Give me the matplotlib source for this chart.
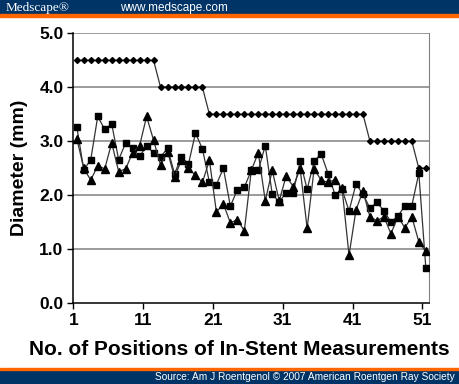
import matplotlib
matplotlib.use("Agg")
import matplotlib.pyplot as plt
import numpy as np

positions = list(range(1, 52))
diamond = [4.5]*12 + [4.0]*7 + [3.5]*23 + [3.0]*7 + [2.5]*2
squares = [3.27, 2.47, 2.66, 3.46, 3.22, 3.32, 2.66, 2.97, 2.87, 2.72,
           2.92, 2.78, 2.71, 2.87, 2.40, 2.71, 2.58, 3.15, 2.86, 2.24,
           2.20, 2.50, 1.80, 2.10, 2.15, 2.46, 2.46, 2.92, 2.02, 1.88,
           2.05, 2.05, 2.63, 2.11, 2.63, 2.77, 2.40, 2.01, 2.11, 1.71,
           2.21, 2.02, 1.76, 1.87, 1.71, 1.51, 1.61, 1.81, 1.81, 2.41,
           0.66]
triangles = [3.05, 2.50, 2.28, 2.55, 2.49, 2.97, 2.44, 2.49, 2.79, 2.92,
             3.46, 3.02, 2.56, 2.81, 2.34, 2.65, 2.50, 2.37, 2.24, 2.65,
             1.69, 1.84, 1.49, 1.55, 1.34, 2.46, 2.79, 1.90, 2.46, 1.90,
             2.36, 2.16, 2.49, 1.39, 2.49, 2.28, 2.24, 2.29, 2.13, 0.89,
             1.73, 2.08, 1.60, 1.53, 1.60, 1.29, 1.60, 1.40, 1.60, 1.14,
             0.96]
xtick_labels = ["1", "11", "21", "31", "41", "51"]
yticks = [0.0, 1.0, 2.0, 3.0, 4.0, 5.0]

plt.rcParams['font.family'] = ['Liberation Sans', 'DejaVu Sans']

W, H = 460, 384
fig = plt.figure(figsize=(W/100, H/100), dpi=100)

# banners
navy = "#003366"
orange = "#ff6600"
fig.patches.append(plt.Rectangle((0, 1 - 14/H), 1, 14/H, transform=fig.transFigure, color=navy, zorder=0))
fig.patches.append(plt.Rectangle((0, 1 - 16.7/H), 1, 2.7/H, transform=fig.transFigure, color=orange, zorder=0))
fig.patches.append(plt.Rectangle((0, 0), 1, 14.5/H, transform=fig.transFigure, color=navy, zorder=0))
fig.patches.append(plt.Rectangle((0, 14.5/H), 1, 2/H, transform=fig.transFigure, color=orange, zorder=0))
fig.text(6/W, 1 - 7.5/H, "Medscape®", color="white", fontsize=9.5, family="Liberation Serif", va="center", ha="left")
fig.text(120/W, 1 - 7.5/H, "www.medscape.com", color="white", fontsize=8.5, va="center", ha="left")
fig.text(455/W, 7/H, "Source: Am J Roentgenol © 2007 American Roentgen Ray Society", color="white", fontsize=7.3, va="center", ha="right")

ax = fig.add_axes([73.3/W, 1 - 303.3/H, (429.3-73.3)/W, (303.3-33.3)/H])
ax.set_xlim(0.5, 51.5)
ax.set_ylim(0, 5)

for v in [1, 2, 3, 4, 5]:
    ax.axhline(v, color="#808080", lw=1.1, zorder=1)

line_kw = dict(color="#333333", lw=0.9, zorder=3)
ax.plot(positions, diamond, marker="D", ms=3.0, mfc="black", mec="black", **line_kw)
ax.plot(positions, squares, marker="s", ms=4.6, mfc="black", mec="black", **line_kw)
ax.plot(positions, triangles, marker="^", ms=5.2, mfc="black", mec="black", **line_kw)

ax.set_xticks([p - 0.5 for p in [1, 11, 21, 31, 41, 51]])
ax.set_xticklabels(xtick_labels, fontsize=12.5, fontweight="bold")
ax.set_yticks(yticks)
ax.set_yticklabels([f"{v:.1f}" for v in yticks], fontsize=12.5, fontweight="bold")
ax.tick_params(axis="both", direction="out", length=4, width=1, color="black", pad=3)

for s in ["left", "bottom"]:
    ax.spines[s].set_color("black")
    ax.spines[s].set_linewidth(1.1)
ax.spines["right"].set_color("#808080")
ax.spines["top"].set_visible(False)

ax.set_ylabel("Diameter (mm)", fontsize=14, fontweight="bold", labelpad=8)
ax.set_xlabel("No. of Positions of In-Stent Measurements", fontsize=15, fontweight="bold", labelpad=8)
ax.xaxis.set_label_coords((239 - 73.3)/(429.3-73.3), -(340-303.3)/(303.3-33.3))

fig.savefig("out.png", dpi=100)
